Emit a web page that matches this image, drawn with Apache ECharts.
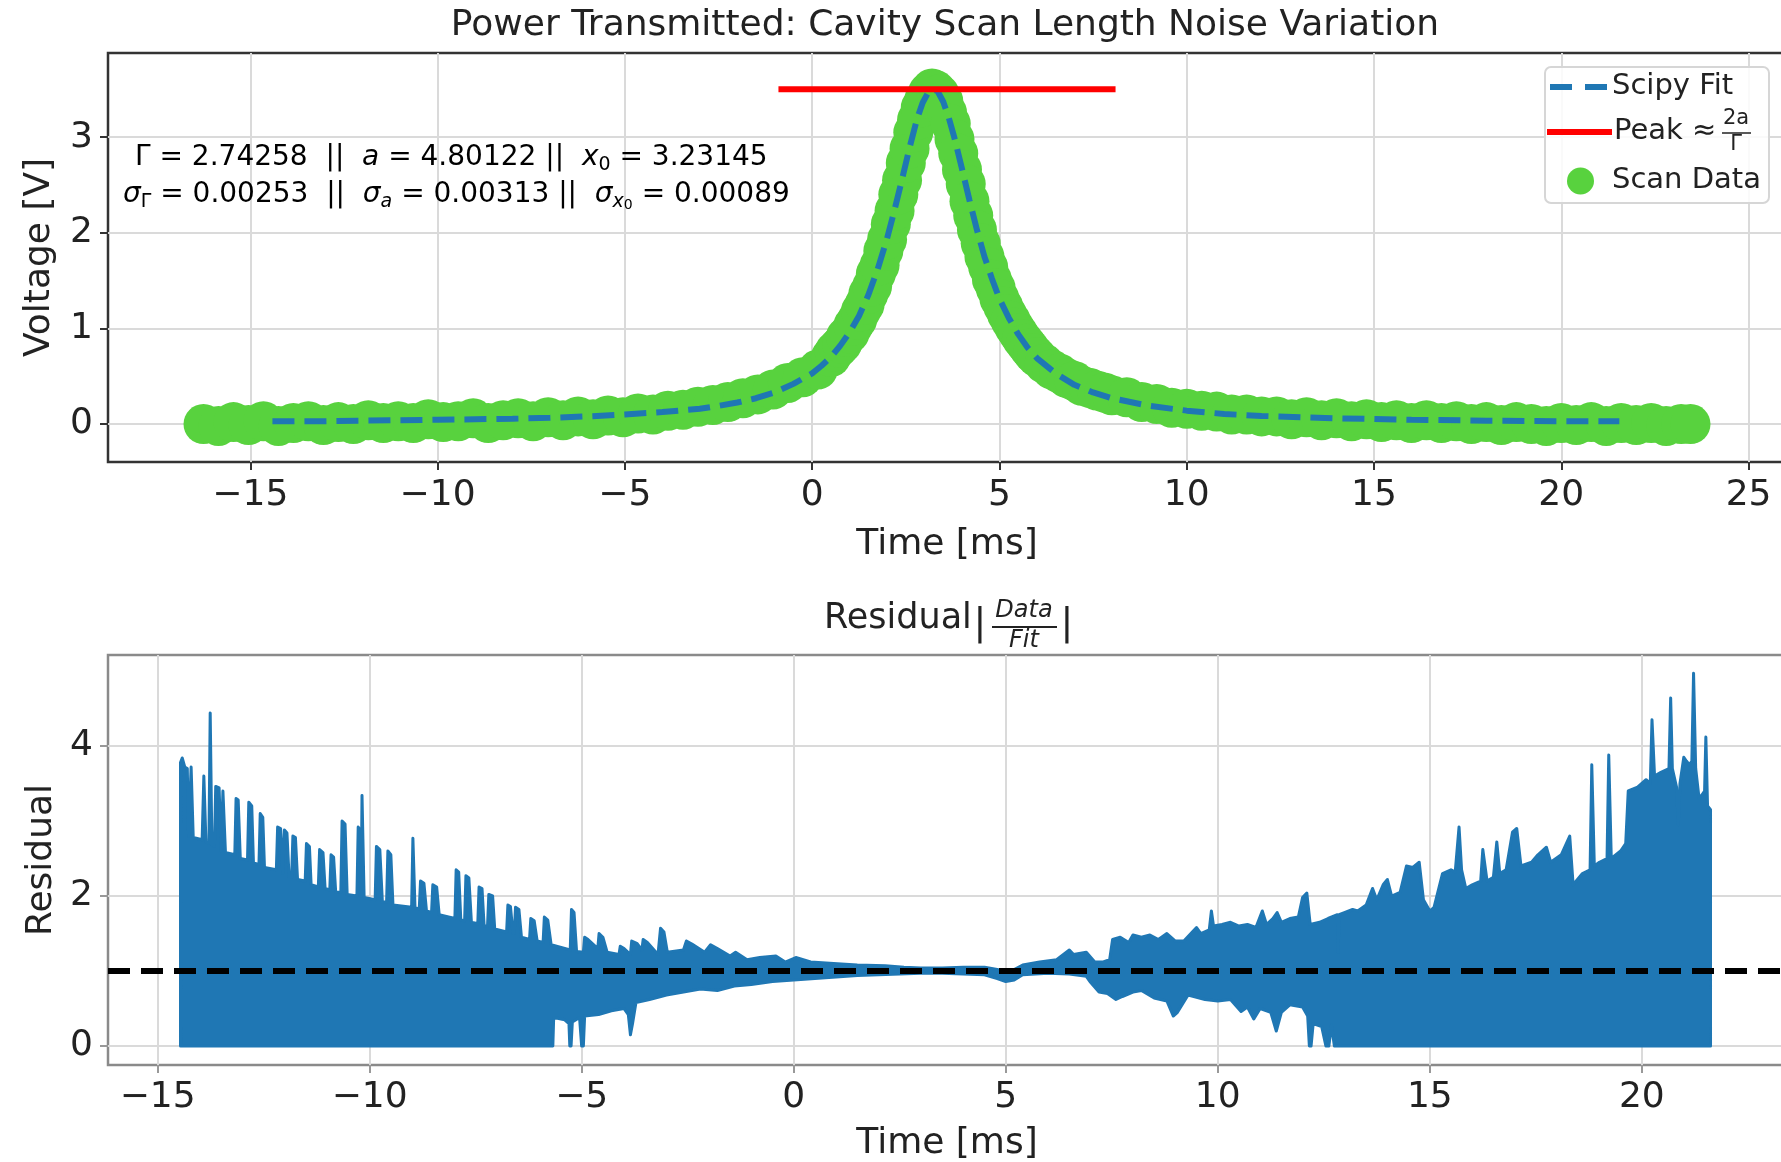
<!DOCTYPE html>
<html><head><meta charset="utf-8">
<script src="https://cdn.jsdelivr.net/npm/echarts@6/dist/echarts.min.js"></script>
<style>html,body{margin:0;padding:0;background:#fff}#c{width:1781px;height:1162px}</style>
</head><body><div id="c"></div>
<script>
const FONT = 'DejaVu Sans';
const TXT = '#222222';

// ---------- data ----------
const scanData = [
 [-16.25,0.00],[-15.85,-0.02],[-15.45,0.02],[-15.05,-0.01],[-14.65,0.03],[-14.25,-0.02],[-13.85,0.01],[-13.45,0.03],[-13.05,-0.01],[-12.65,0.02],
 [-12.25,0.00],[-11.85,0.04],[-11.45,0.01],[-11.05,0.03],[-10.65,0.01],[-10.25,0.05],[-9.85,0.02],[-9.45,0.03],[-9.05,0.06],[-8.65,0.01],
 [-8.25,0.04],[-7.85,0.06],[-7.45,0.03],[-7.05,0.07],[-6.65,0.04],[-6.25,0.08],[-5.85,0.05],[-5.45,0.09],[-5.05,0.07],[-4.65,0.11],
 [-4.25,0.10],[-3.85,0.14],[-3.45,0.15],[-3.05,0.18],[-2.65,0.20],[-2.25,0.23],[-1.85,0.27],[-1.45,0.31],[-1.05,0.36],[-0.65,0.43],
 [-0.25,0.49],[0.15,0.57],[0.5,0.70],[0.6,0.76],[0.7,0.80],[0.8,0.84],[0.9,0.91],[1.0,0.95],[1.1,1.03],[1.2,1.09],
 [1.3,1.18],[1.4,1.25],[1.5,1.36],[1.6,1.44],[1.7,1.57],[1.8,1.66],[1.9,1.81],[2.0,1.93],[2.1,2.09],[2.2,2.23],
 [2.3,2.40],[2.4,2.55],[2.5,2.73],[2.6,2.88],[2.7,3.05],[2.8,3.18],[2.9,3.31],[3.0,3.40],[3.1,3.47],[3.2,3.51],
 [3.3,3.49],[3.4,3.45],[3.5,3.38],[3.6,3.26],[3.7,3.14],[3.8,2.98],[3.9,2.83],[4.0,2.66],[4.1,2.51],[4.2,2.33],
 [4.3,2.18],[4.4,2.03],[4.5,1.89],[4.6,1.75],[4.7,1.64],[4.8,1.51],[4.9,1.42],[5.0,1.31],[5.1,1.23],[5.2,1.15],
 [5.3,1.08],[5.4,1.01],[5.5,0.95],[5.6,0.89],[5.7,0.84],[5.8,0.79],[5.9,0.74],[6.0,0.70],[6.2,0.63],[6.4,0.57],
 [6.6,0.53],[6.8,0.48],[7.0,0.45],[7.2,0.40],[7.4,0.38],[7.6,0.35],[7.8,0.33],[8.0,0.30],[8.4,0.28],[8.8,0.23],
 [9.2,0.21],[9.6,0.17],[10.0,0.16],[10.4,0.14],[10.8,0.13],[11.2,0.10],[11.6,0.10],[12.0,0.08],[12.4,0.08],[12.8,0.05],
 [13.2,0.07],[13.6,0.04],[14.0,0.06],[14.4,0.03],[14.8,0.05],[15.2,0.02],[15.6,0.04],[16.0,0.01],[16.4,0.04],[16.8,0.01],
 [17.2,0.03],[17.6,0.00],[18.0,0.02],[18.4,-0.01],[18.8,0.02],[19.2,0.00],[19.6,-0.02],[20.0,0.01],[20.4,-0.01],[20.8,0.02],
 [21.2,-0.02],[21.6,0.01],[22.0,-0.01],[22.4,0.01],[22.8,-0.02],[23.2,0.00],[23.45,0.00]
];

const fitData = [
 [-14.41,0.03],[-13,0.03],[-12,0.035],[-11,0.04],[-10,0.045],[-9,0.05],[-8,0.055],[-7,0.065],[-6,0.08],[-5,0.10],
 [-4,0.125],[-3,0.16],[-2.5,0.19],[-2,0.225],[-1.5,0.27],[-1,0.33],[-0.5,0.42],[0,0.53],[0.25,0.61],[0.5,0.70],
 [0.75,0.82],[1,0.96],[1.25,1.13],[1.5,1.35],[1.75,1.62],[2,1.94],[2.2,2.24],[2.4,2.56],[2.6,2.89],[2.8,3.19],
 [2.95,3.36],[3.1,3.47],[3.23,3.50],[3.35,3.48],[3.5,3.37],[3.65,3.20],[3.8,2.99],[4.0,2.67],[4.2,2.34],[4.4,2.03],
 [4.6,1.75],[4.8,1.52],[5.0,1.31],[5.25,1.11],[5.5,0.94],[5.75,0.80],[6,0.69],[6.5,0.53],[7,0.41],[7.5,0.33],
 [8,0.27],[9,0.19],[10,0.14],[11,0.105],[12,0.085],[14,0.06],[16,0.045],[18,0.035],[20,0.03],[21.55,0.03]
];

const peakLine = [[-0.9,3.50],[8.1,3.50]];

const residualUpper = [
 [-14.46,3.78],[-14.42,3.84],[-14.36,3.72],[-14.30,3.70],[-14.27,2.80],[-14.21,3.72],[-14.16,2.78],[-13.95,2.75],[-13.91,3.60],[-13.86,2.72],
 [-13.79,2.70],[-13.76,4.44],[-13.72,2.68],[-13.66,2.66],[-13.63,3.46],[-13.55,3.44],[-13.50,2.60],[-13.46,3.40],[-13.40,2.58],[-13.18,2.55],
 [-13.15,3.30],[-13.10,3.28],[-13.05,2.50],[-12.88,2.48],[-12.85,3.25],[-12.78,3.20],[-12.74,2.44],[-12.61,2.42],[-12.58,3.10],[-12.52,3.05],
 [-12.48,2.38],[-12.20,2.35],[-12.17,2.92],[-12.10,2.90],[-12.05,2.30],[-12.01,2.88],[-11.95,2.84],[-11.90,2.26],[-11.84,2.25],[-11.81,2.80],
 [-11.75,2.78],[-11.70,2.22],[-11.52,2.20],[-11.49,2.70],[-11.42,2.66],[-11.38,2.15],[-11.21,2.12],[-11.18,2.62],[-11.10,2.58],[-11.05,2.10],
 [-10.94,2.08],[-10.91,2.55],[-10.85,2.52],[-10.80,2.05],[-10.68,2.05],[-10.65,3.00],[-10.58,2.96],[-10.53,2.02],[-10.30,2.00],[-10.27,2.92],
 [-10.22,2.88],[-10.20,2.00],[-10.18,3.34],[-10.13,1.98],[-9.87,1.95],[-9.84,2.66],[-9.76,2.62],[-9.70,1.92],[-9.60,1.92],[-9.57,2.60],
 [-9.50,2.55],[-9.45,1.88],[-9.01,1.85],[-8.98,2.77],[-8.93,1.84],[-8.83,1.83],[-8.80,2.20],[-8.72,2.17],[-8.66,1.80],[-8.54,1.78],
 [-8.51,2.15],[-8.42,2.12],[-8.36,1.75],[-7.99,1.70],[-7.96,2.35],[-7.90,2.32],[-7.85,1.68],[-7.76,1.67],[-7.73,2.27],[-7.66,2.24],
 [-7.60,1.65],[-7.45,1.63],[-7.42,2.12],[-7.35,2.10],[-7.30,1.60],[-7.22,1.60],[-7.19,2.02],[-7.10,2.00],[-7.05,1.56],[-6.77,1.52],
 [-6.74,1.88],[-6.68,1.86],[-6.62,1.50],[-6.59,1.50],[-6.56,1.85],[-6.48,1.82],[-6.42,1.45],[-6.23,1.42],[-6.20,1.70],[-6.12,1.67],
 [-6.05,1.40],[-5.91,1.38],[-5.88,1.72],[-5.80,1.68],[-5.72,1.35],[-5.27,1.28],[-5.24,1.82],[-5.18,1.78],[-5.12,1.26],[-4.96,1.25],
 [-4.93,1.45],[-4.85,1.42],[-4.62,1.30],[-4.59,1.50],[-4.50,1.45],[-4.40,1.25],[-4.12,1.22],[-4.09,1.33],[-4.00,1.30],[-3.85,1.22],
 [-3.82,1.40],[-3.70,1.37],[-3.58,1.28],[-3.55,1.42],[-3.45,1.38],[-3.20,1.22],[-3.14,1.57],[-3.06,1.52],[-2.98,1.25],[-2.60,1.28],
 [-2.53,1.40],[-2.40,1.36],[-2.10,1.25],[-1.96,1.35],[-1.80,1.30],[-1.50,1.20],[-1.37,1.25],[-1.10,1.15],[-0.80,1.18],[-0.42,1.20],
 [-0.20,1.12],[0.05,1.18],[0.40,1.12],[0.94,1.10],[1.50,1.08],[2.16,1.07],[2.60,1.05],[3.0,1.04],[3.5,1.04],[4.0,1.05],
 [4.5,1.05],[4.8,1.02],[5.0,0.98],[5.2,1.02],[5.4,1.08],[5.8,1.12],[6.2,1.15],[6.5,1.28],[6.6,1.22],[6.9,1.25],
 [7.1,1.12],[7.3,1.12],[7.45,1.15],[7.52,1.42],[7.7,1.45],[7.9,1.38],[8.0,1.48],[8.2,1.45],[8.4,1.48],[8.6,1.42],
 [8.8,1.50],[9.0,1.40],[9.2,1.40],[9.4,1.52],[9.5,1.58],[9.6,1.50],[9.8,1.55],[9.85,1.80],[9.9,1.60],[10.1,1.62],
 [10.3,1.65],[10.5,1.60],[10.7,1.62],[10.9,1.58],[11.05,1.80],[11.15,1.62],[11.3,1.70],[11.4,1.78],[11.5,1.65],[11.7,1.70],
 [11.9,1.72],[12.0,1.98],[12.1,2.04],[12.18,1.62],[12.4,1.65],[12.6,1.70],[12.82,1.75],[12.84,1.25],[12.86,1.75],[13.0,1.78],
 [13.18,1.82],[13.3,1.80],[13.5,1.88],[13.65,2.10],[13.75,1.95],[13.9,2.15],[14.0,2.22],[14.1,2.00],[14.3,2.05],[14.45,2.40],
 [14.6,2.38],[14.75,2.45],[14.85,1.95],[15.0,1.80],[15.1,1.85],[15.3,2.30],[15.5,2.35],[15.6,2.32],[15.69,2.92],[15.75,2.35],
 [15.85,2.10],[16.0,2.15],[16.2,2.20],[16.25,2.62],[16.35,2.20],[16.5,2.25],[16.58,2.72],[16.65,2.30],[16.8,2.35],[16.95,2.85],
 [17.05,2.90],[17.15,2.40],[17.4,2.45],[17.55,2.55],[17.75,2.65],[17.85,2.45],[18.1,2.55],[18.3,2.80],[18.38,2.15],[18.6,2.30],
 [18.78,2.35],[18.82,3.75],[18.88,2.40],[19.0,2.45],[19.18,2.50],[19.22,3.88],[19.28,2.50],[19.5,2.60],[19.62,2.70],[19.68,3.40],
 [19.9,3.45],[20.1,3.55],[20.2,3.50],[20.24,4.35],[20.3,3.60],[20.45,3.65],[20.64,3.70],[20.68,4.64],[20.72,3.70],[20.82,3.45],
 [20.86,2.95],[20.9,3.50],[20.99,3.85],[21.05,3.80],[21.12,3.75],[21.18,3.80],[21.22,4.97],[21.27,3.70],[21.35,3.30],[21.42,3.35],
 [21.48,3.40],[21.51,4.12],[21.55,3.20],[21.62,3.15]
];

const residualLower = [
 [-14.46,0],[-5.68,0],[-5.66,0.38],[-5.40,0.35],[-5.30,0.30],[-5.28,0.0],[-5.25,0.0],[-5.22,0.32],[-5.05,0.38],[-5.00,0.0],
 [-4.96,0.0],[-4.93,0.40],[-4.6,0.42],[-4.3,0.47],[-4.0,0.50],[-3.90,0.42],[-3.85,0.15],[-3.80,0.30],[-3.72,0.58],[-3.4,0.62],
 [-3.0,0.68],[-2.6,0.72],[-2.2,0.76],[-1.8,0.74],[-1.4,0.80],[-1.0,0.82],[-0.5,0.86],[0.0,0.88],[0.5,0.90],[1.0,0.92],
 [1.5,0.94],[2.0,0.95],[2.5,0.96],[3.0,0.97],[3.5,0.97],[4.0,0.96],[4.5,0.95],[4.8,0.90],[5.0,0.86],[5.2,0.88],
 [5.4,0.95],[6.0,0.97],[6.5,0.96],[6.9,0.93],[7.0,0.85],[7.2,0.72],[7.4,0.70],[7.6,0.62],[7.75,0.66],[8.0,0.72],
 [8.2,0.74],[8.5,0.64],[8.8,0.60],[8.95,0.40],[9.05,0.45],[9.3,0.68],[9.7,0.62],[10.0,0.60],[10.3,0.62],[10.55,0.46],
 [10.7,0.52],[10.85,0.36],[11.0,0.50],[11.25,0.45],[11.38,0.20],[11.5,0.45],[11.7,0.55],[12.0,0.52],[12.12,0.40],[12.16,0.0],
 [12.20,0.0],[12.25,0.30],[12.45,0.26],[12.55,0.0],[12.62,0.0],[12.68,0.28],[12.75,0.0],[21.62,0.0]
];

const residualRef = 1;

const topXTicks = [-15,-10,-5,0,5,10,15,20,25];
const topYTicks = [0,1,2,3];
const botXTicks = [-15,-10,-5,0,5,10,15,20];
const botYTicks = [0,2,4];

// ---------- chart ----------
const fmt = v => (v < 0 ? '\u2212' + Math.abs(v) : String(v));

function xAxisCfg(gridIndex, min, max, ticks, gap, margin, tickColor) {
  return {
    type: 'value', gridIndex, min, max, minInterval: 5, maxInterval: 5,
    name: 'Time [ms]', nameLocation: 'middle', nameGap: gap,
    nameTextStyle: {fontFamily: FONT, fontSize: 36, color: TXT},
    axisLine: {show: false, onZero: false},
    axisTick: {show: true, length: 8, lineStyle: {color: tickColor, width: 2}, customValues: ticks},
    axisLabel: {fontFamily: FONT, fontSize: 36, color: TXT, margin, formatter: fmt,
      customValues: ticks, showMinLabel: true, showMaxLabel: true},
    splitLine: {show: true, lineStyle: {color: '#dadada', width: 2}}
  };
}
function yAxisCfg(gridIndex, min, max, ticks, interval, name, gap, tickColor) {
  return {
    type: 'value', gridIndex, min, max, minInterval: interval, maxInterval: interval,
    name, nameLocation: 'middle', nameGap: gap,
    nameTextStyle: {fontFamily: FONT, fontSize: 36, color: TXT},
    axisLine: {show: false, onZero: false},
    axisTick: {show: true, length: 8, lineStyle: {color: tickColor, width: 2}, customValues: ticks},
    axisLabel: {fontFamily: FONT, fontSize: 36, color: TXT, margin: 15, formatter: fmt,
      customValues: ticks, showMinLabel: true, showMaxLabel: true},
    splitLine: {show: true, lineStyle: {color: '#dadada', width: 2}}
  };
}

const chart = echarts.init(document.getElementById('c'), null, {renderer: 'canvas'});

const rich1 = {
  n: {fontFamily: FONT, fontSize: 28, color: TXT, lineHeight: 34},
  i: {fontFamily: FONT, fontSize: 28, fontStyle: 'italic', color: TXT, lineHeight: 34},
  s: {fontFamily: FONT, fontSize: 19, color: TXT, lineHeight: 17, verticalAlign: 'bottom'},
  si: {fontFamily: FONT, fontSize: 19, fontStyle: 'italic', color: TXT, lineHeight: 17, verticalAlign: 'bottom'},
  ss: {fontFamily: FONT, fontSize: 14, color: TXT, lineHeight: 10, verticalAlign: 'bottom'}
};

const green = '#58d23e';
const blue = '#1f77b4';

const option = {
  animation: false,
  backgroundColor: '#ffffff',
  title: {
    text: 'Power Transmitted: Cavity Scan Length Noise Variation',
    left: 945, top: 8, textAlign: 'center', padding: 0,
    textStyle: {fontFamily: FONT, fontSize: 36, fontWeight: 'normal', color: TXT}
  },
  grid: [
    {left: 108, right: -5, top: 53, bottom: 700, outerBoundsMode: 'none', containLabel: false,
      show: true, borderColor: '#333333', borderWidth: 2.5, backgroundColor: 'transparent'},
    {left: 108, right: -5, top: 655, bottom: 97, outerBoundsMode: 'none', containLabel: false,
      show: true, borderColor: '#8a8a8a', borderWidth: 2.5, backgroundColor: 'transparent'}
  ],
  xAxis: [
    xAxisCfg(0, -18.8, 26.0, topXTicks, 65, 16, '#333333'),
    xAxisCfg(1, -16.17, 23.4, botXTicks, 61, 15, '#999999')
  ],
  yAxis: [
    yAxisCfg(0, -0.397, 3.88, topYTicks, 1, 'Voltage [V]', 50, '#333333'),
    yAxisCfg(1, -0.253, 5.213, botYTicks, 2, 'Residual', 43, '#999999')
  ],
  series: [
    {
      name: 'Scan Data', type: 'scatter', xAxisIndex: 0, yAxisIndex: 0,
      data: scanData, symbol: 'circle', symbolSize: 40,
      itemStyle: {color: green, opacity: 1}, z: 2, silent: true
    },
    {
      name: 'Scipy Fit', type: 'line', xAxisIndex: 0, yAxisIndex: 0,
      data: fitData, showSymbol: false, symbol: 'none',
      lineStyle: {color: blue, width: 6, type: [22, 10]}, z: 3, silent: true
    },
    {
      name: 'Peak', type: 'line', xAxisIndex: 0, yAxisIndex: 0,
      data: peakLine, showSymbol: false, symbol: 'none',
      lineStyle: {color: '#ff0000', width: 6}, z: 4, silent: true
    },
    {
      name: 'Residual', type: 'custom', xAxisIndex: 1, yAxisIndex: 1,
      data: residualUpper, encode: {x: 0, y: 1}, clip: true, silent: true, z: 2,
      renderItem: function (params, api) {
        if (params.dataIndex !== 0) return null;
        const pts = residualUpper.map(p => api.coord(p))
          .concat(residualLower.slice().reverse().map(p => api.coord(p)));
        return {type: 'polygon', shape: {points: pts},
          style: {fill: blue, stroke: blue, lineWidth: 3, lineJoin: 'round'}};
      }
    },
    {
      name: 'Unity', type: 'line', xAxisIndex: 1, yAxisIndex: 1, data: [], z: 5, silent: true,
      markLine: {
        silent: true, symbol: ['none', 'none'], label: {show: false},
        lineStyle: {color: '#000000', width: 6, type: [22, 11]},
        emphasis: {disabled: true},
        data: [{yAxis: residualRef}]
      }
    }
  ],
  graphic: [
    // fit parameters annotation
    {type: 'text', z: 100, style: {x: 135, y: 157.5, align: 'left', verticalAlign: 'middle',
      text: '{n|\u0393 = 2.74258  ||  }{i|a}{n| = 4.80122 ||  }{i|x}{s|0}{n| = 3.23145}', rich: rich1}},
    {type: 'text', z: 100, style: {x: 123, y: 195, align: 'left', verticalAlign: 'middle',
      text: '{i|\u03c3}{s|\u0393}{n| = 0.00253  ||  }{i|\u03c3}{si|a}{n| = 0.00313 ||  }{i|\u03c3}{si|x}{ss|0}{n| = 0.00089}', rich: rich1}},
    // legend
    {type: 'rect', z: 100, shape: {x: 1545, y: 67, width: 224, height: 136, r: 6},
      style: {fill: 'rgba(255,255,255,0.85)', stroke: '#d6d6d6', lineWidth: 2}},
    {type: 'line', z: 101, shape: {x1: 1550, y1: 87, x2: 1608, y2: 87},
      style: {stroke: blue, lineWidth: 6, lineDash: [22, 13]}},
    {type: 'text', z: 101, style: {x: 1612, y: 86, align: 'left', verticalAlign: 'middle',
      text: 'Scipy Fit', fontFamily: FONT, fontSize: 29, fill: TXT}},
    {type: 'line', z: 101, shape: {x1: 1547, y1: 132, x2: 1612, y2: 132},
      style: {stroke: '#ff0000', lineWidth: 6}},
    {type: 'text', z: 101, style: {x: 1614, y: 131, align: 'left', verticalAlign: 'middle',
      text: 'Peak \u2248', fontFamily: FONT, fontSize: 29, fill: TXT}},
    {type: 'text', z: 101, style: {x: 1736, y: 119, align: 'center', verticalAlign: 'middle',
      text: '2a', fontFamily: FONT, fontSize: 21, fill: TXT}},
    {type: 'line', z: 101, shape: {x1: 1722, y1: 133, x2: 1751, y2: 133},
      style: {stroke: TXT, lineWidth: 1.5}},
    {type: 'text', z: 101, style: {x: 1736, y: 145, align: 'center', verticalAlign: 'middle',
      text: '\u0393', fontFamily: FONT, fontSize: 21, fill: TXT}},
    {type: 'circle', z: 101, shape: {cx: 1580.5, cy: 181, r: 13.5}, style: {fill: green}},
    {type: 'text', z: 101, style: {x: 1612, y: 180, align: 'left', verticalAlign: 'middle',
      text: 'Scan Data', fontFamily: FONT, fontSize: 29, fill: TXT}},
    // residual subplot title
    {type: 'text', z: 100, style: {x: 824, y: 619, align: 'left', verticalAlign: 'middle',
      text: 'Residual', fontFamily: FONT, fontSize: 35, fill: TXT}},
    {type: 'text', z: 100, style: {x: 980, y: 624, align: 'center', verticalAlign: 'middle',
      text: '|', fontFamily: FONT, fontSize: 38, fill: TXT}},
    {type: 'text', z: 100, style: {x: 1024, y: 611, align: 'center', verticalAlign: 'middle',
      text: 'Data', fontFamily: FONT, fontSize: 24, fontStyle: 'italic', fill: TXT}},
    {type: 'line', z: 100, shape: {x1: 992, y1: 627, x2: 1057, y2: 627},
      style: {stroke: TXT, lineWidth: 1.8}},
    {type: 'text', z: 100, style: {x: 1024, y: 641, align: 'center', verticalAlign: 'middle',
      text: 'Fit', fontFamily: FONT, fontSize: 24, fontStyle: 'italic', fill: TXT}},
    {type: 'text', z: 100, style: {x: 1067, y: 624, align: 'center', verticalAlign: 'middle',
      text: '|', fontFamily: FONT, fontSize: 38, fill: TXT}}
  ]
};
chart.setOption(option);
</script>
</body></html>
